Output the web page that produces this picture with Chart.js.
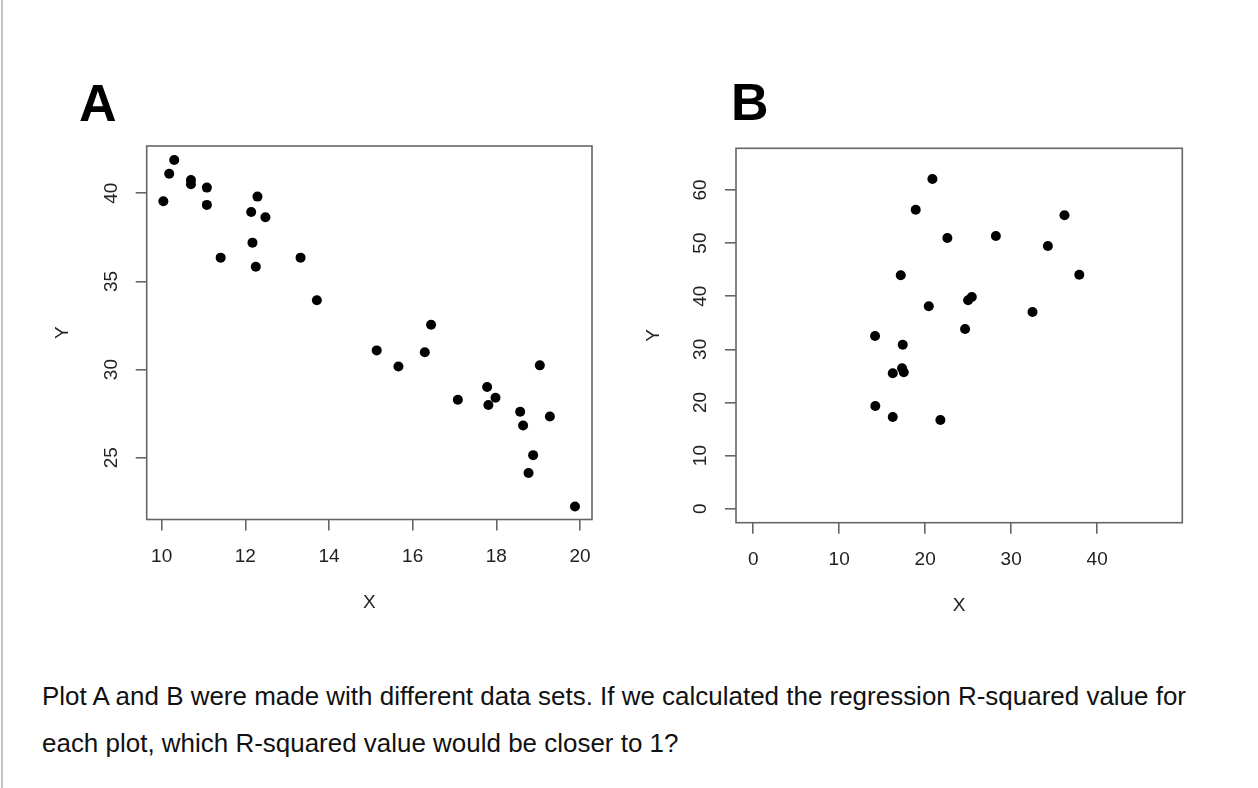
<!DOCTYPE html>
<html>
<head>
<meta charset="utf-8">
<script src="https://cdn.jsdelivr.net/npm/chart.js@4.4.1/dist/chart.umd.min.js"></script>
<style>
  html, body { margin: 0; padding: 0; background: #fff; }
  #page { position: relative; width: 1258px; height: 788px; overflow: hidden; background: #fff; }
  #edge { position: absolute; left: 1px; top: 0; width: 2px; height: 788px; background: #c4c4c4; }
  .panel { position: absolute; font-family: "Liberation Sans", Arial, sans-serif; font-weight: bold;
           font-size: 52px; line-height: 1; color: #000; }
  .wrap { position: absolute; }
  .line { position: absolute; left: 42px; font-family: "Liberation Sans", Arial, sans-serif;
          font-size: 25px; line-height: 1; color: #111; white-space: nowrap; transform-origin: 0 0; }
</style>
</head>
<body>
<div id="page">
  <div id="edge"></div>
  <div class="panel" style="left:79px; top:77px;">A</div>
  <div class="panel" style="left:731px; top:76px;">B</div>
  <div class="wrap" style="left:40px; top:130px; width:580px; height:500px;"><canvas id="chartA"></canvas></div>
  <div class="wrap" style="left:620px; top:130px; width:620px; height:500px;"><canvas id="chartB"></canvas></div>
  <div class="line" id="line1" style="top:684px;">Plot A and B were made with different data sets. If we calculated the regression R-squared value for</div>
  <div class="line" id="line2" style="top:731px;">each plot, which R-squared value would be closer to 1?</div>
</div>
<script>
// Данные графика A
const xA = [10.30, 10.18, 10.04, 10.70, 10.70, 11.08, 11.08, 11.41, 12.29, 12.14,
            12.48, 12.17, 12.25, 13.32, 13.71, 15.14, 15.66, 16.29, 16.44, 17.08,
            17.78, 17.98, 17.81, 18.57, 18.64, 19.04, 19.28, 18.88, 18.77, 19.88];
const yA = [41.89, 41.11, 39.55, 40.75, 40.51, 40.32, 39.34, 36.35, 39.81, 38.94,
            38.64, 37.20, 35.83, 36.35, 33.93, 31.09, 30.18, 30.98, 32.54, 28.29,
            29.01, 28.40, 27.99, 27.61, 26.83, 30.24, 27.34, 25.15, 24.14, 22.24];
const xTicksA = [10, 12, 14, 16, 18, 20];
const yTicksA = [25, 30, 35, 40];

// Данные графика B
const xB = [20.84, 18.90, 22.58, 28.22, 36.20, 34.27, 37.92, 17.16, 20.42, 24.99,
            25.42, 32.48, 24.64, 14.17, 17.39, 17.31, 17.51, 16.23, 14.20, 16.23, 21.77];
const yB = [62.07, 56.29, 50.96, 51.34, 55.23, 49.45, 44.05, 43.94, 38.10, 39.23,
            39.85, 37.03, 33.83, 32.51, 30.87, 26.43, 25.68, 25.49, 19.33, 17.26, 16.70];
const xTicksB = [0, 10, 20, 30, 40];
const yTicksB = [0, 10, 20, 30, 40, 50, 60];

const axisGray = '#666';
const labelFont = { family: '"Liberation Sans", Arial, sans-serif', size: 19 };

// рамка вокруг области построения, как в R
const boxPlugin = {
    id: 'box',
    afterDraw(chart) {
        const { ctx, chartArea: a } = chart;
        ctx.save();
        ctx.strokeStyle = axisGray;
        ctx.lineWidth = 1.6;
        ctx.strokeRect(a.left, a.top, a.right - a.left, a.bottom - a.top);
        ctx.restore();
    }
};

// убираем автоматические отступы оси, размеры задаём сами
function noPad(s) {
    s.paddingTop = 0; s.paddingBottom = 0; s.paddingLeft = 0; s.paddingRight = 0;
}

function makeScatter(id, xs, ys, xTicks, yTicks, cfg) {
    const points = xs.map((x, i) => ({ x: x, y: ys[i] }));
    return new Chart(document.getElementById(id), {
        type: 'scatter',
        data: {
            datasets: [{
                data: points,
                backgroundColor: '#000',
                borderColor: '#000',
                borderWidth: 0,
                pointRadius: 5,
                pointHoverRadius: 5
            }]
        },
        options: {
            responsive: true,
            maintainAspectRatio: false,
            animation: false,
            events: [],
            layout: { padding: cfg.padding, autoPadding: false },
            plugins: { legend: { display: false }, tooltip: { enabled: false } },
            scales: {
                x: {
                    type: 'linear',
                    min: cfg.xMin,
                    max: cfg.xMax,
                    afterBuildTicks: s => { s.ticks = xTicks.map(v => ({ value: v })); },
                    afterFit: s => { s.height = cfg.xAxisHeight; noPad(s); },
                    border: { display: false },
                    grid: { drawOnChartArea: false, drawTicks: true, tickLength: 11, color: axisGray, lineWidth: 1.6 },
                    ticks: { color: '#222', font: labelFont, padding: 14.6, maxRotation: 0, autoSkip: false },
                    title: { display: true, text: 'X', color: '#222', font: labelFont, padding: { top: 0, bottom: cfg.xTitlePad } }
                },
                y: {
                    type: 'linear',
                    min: cfg.yMin,
                    max: cfg.yMax,
                    afterBuildTicks: s => { s.ticks = yTicks.map(v => ({ value: v })); },
                    afterFit: s => { s.width = cfg.yAxisWidth; noPad(s); },
                    border: { display: false },
                    grid: { drawOnChartArea: false, drawTicks: true, tickLength: 11, color: axisGray, lineWidth: 1.6 },
                    ticks: { color: '#222', font: labelFont, padding: 13.4, minRotation: 90, maxRotation: 90,
                             crossAlign: 'center', autoSkip: false },
                    title: { display: true, text: 'Y', color: '#222', font: labelFont, padding: { top: cfg.yTitlePad, bottom: 0 } }
                }
            }
        },
        plugins: [boxPlugin]
    });
}

makeScatter('chartA', xA, yA, xTicksA, yTicksA, {
    padding: { left: 0, top: 16, right: 28, bottom: 0 },
    xMin: 9.642, xMax: 20.287, yMin: 21.50, yMax: 42.68,
    xAxisHeight: 110.5, yAxisWidth: 106.7,
    xTitlePad: 16.2, yTitlePad: 11.7
});

makeScatter('chartB', xB, yB, xTicksB, yTicksB, {
    padding: { left: 0, top: 18.3, right: 57.7, bottom: 0 },
    xMin: -2.0, xMax: 49.9, yMin: -2.64, yMax: 67.85,
    xAxisHeight: 107.3, yAxisWidth: 116,
    xTitlePad: 12.5, yTitlePad: 22.7
});

// подгоняем ширину строк текста под оригинал
const l1 = document.getElementById('line1');
const l2 = document.getElementById('line2');
const k = 1144 / l1.getBoundingClientRect().width;
l1.style.transform = 'scaleX(' + k + ')';
l2.style.transform = 'scaleX(' + k + ')';
</script>
</body>
</html>
